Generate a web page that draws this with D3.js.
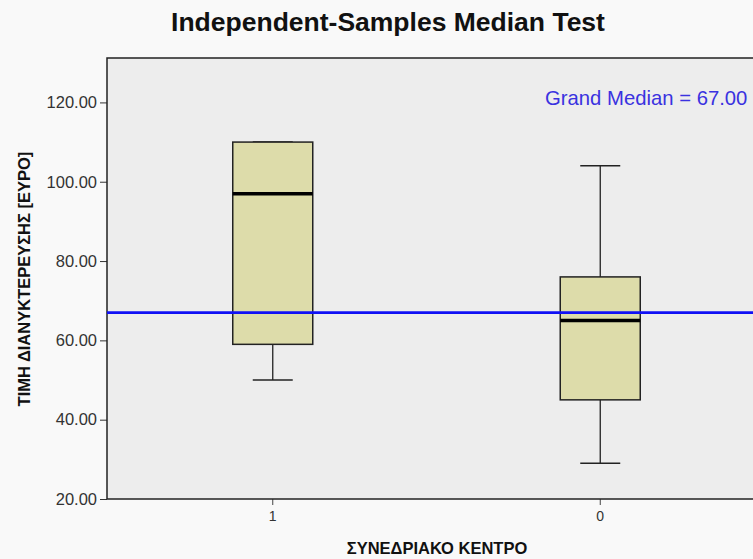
<!DOCTYPE html>
<html>
<head>
<meta charset="utf-8">
<script src="https://cdn.jsdelivr.net/npm/d3@7"></script>
<style>
  html, body { margin: 0; padding: 0; background: #f9f9f9; }
  svg { display: block; }
</style>
</head>
<body>
<svg id="chart" width="753" height="559"></svg>
<script>
// Groups on the x axis (ΣΥΝΕΔΡΙΑΚΟ ΚΕΝΤΡΟ)
const categories = ["1", "0"];
// Five-number summaries per group: lower whisker, Q1, median, Q3, upper whisker
const whiskerLow = [50, 29];
const q1 = [59, 45];
const medians = [97, 65];
const q3 = [110, 76];
const whiskerHigh = [110, 104];
const grandMedian = 67.00;
const yTicks = [20, 40, 60, 80, 100, 120];

const svg = d3.select("#chart");
const margin = { left: 107, top: 58, right: -11, bottom: 60 };
const W = 753, H = 559;
const x0 = margin.left, x1 = W - margin.right;
const yTop = margin.top, yBot = H - margin.bottom;
const font = "Liberation Sans, Arial, sans-serif";

const x = d3.scaleBand().domain(categories).range([x0 + 2, x1]).paddingInner(0).paddingOuter(0);
const y = d3.scaleLinear().domain([20, 131.2]).range([yBot, yTop]);

// plot background
svg.append("rect").attr("x", x0).attr("y", yTop).attr("width", x1 - x0).attr("height", yBot - yTop)
  .attr("fill", "#ededed");

// title
svg.append("text").attr("x", 388).attr("y", 31).attr("text-anchor", "middle")
  .attr("font-family", font).attr("font-weight", "bold")
  .attr("font-size", 26.5).attr("fill", "#111").text("Independent-Samples Median Test");

// y axis
const yAxis = d3.axisLeft(y).tickValues(yTicks).tickFormat(d3.format(".2f")).tickSize(7).tickPadding(3);
const gy = svg.append("g").attr("transform", `translate(${x0},0)`).call(yAxis);
gy.select(".domain").remove();
gy.selectAll("line").attr("stroke", "#333");
gy.selectAll("text").attr("font-family", font).attr("font-size", 16.5).attr("fill", "#333");

// x axis
const xAxis = d3.axisBottom(x).tickSize(6).tickPadding(6);
const gx = svg.append("g").attr("transform", `translate(0,${yBot})`).call(xAxis);
gx.select(".domain").remove();
gx.selectAll("line").attr("stroke", "#444");
gx.selectAll("text").attr("font-family", font).attr("font-size", 14).attr("fill", "#333");

// plot frame
svg.append("rect").attr("x", x0).attr("y", yTop).attr("width", x1 - x0).attr("height", yBot - yTop)
  .attr("fill", "none").attr("stroke", "#222").attr("stroke-width", 1.5);

// axis titles
svg.append("text").attr("transform", `translate(30,${279}) rotate(-90)`)
  .attr("text-anchor", "middle").attr("font-family", font)
  .attr("font-weight", "bold").attr("font-size", 16.5).attr("fill", "#111")
  .text("ΤΙΜΗ ΔΙΑΝΥΚΤΕΡΕΥΣΗΣ [ΕΥΡΟ]");
svg.append("text").attr("x", 437).attr("y", 554).attr("text-anchor", "middle")
  .attr("font-family", font).attr("font-weight", "bold")
  .attr("font-size", 16.5).attr("fill", "#111").text("ΣΥΝΕΔΡΙΑΚΟ ΚΕΝΤΡΟ");

// box plots
const boxW = 80, capW = 40;
categories.forEach((c, i) => {
  const cx = x(c) + x.bandwidth() / 2;
  const g = svg.append("g");
  // whisker stems
  g.append("line").attr("x1", cx).attr("x2", cx).attr("y1", y(whiskerHigh[i])).attr("y2", y(q3[i]))
    .attr("stroke", "#222").attr("stroke-width", 1.3);
  g.append("line").attr("x1", cx).attr("x2", cx).attr("y1", y(q1[i])).attr("y2", y(whiskerLow[i]))
    .attr("stroke", "#222").attr("stroke-width", 1.3);
  // caps
  [whiskerHigh[i], whiskerLow[i]].forEach(v => {
    g.append("line").attr("x1", cx - capW / 2).attr("x2", cx + capW / 2).attr("y1", y(v)).attr("y2", y(v))
      .attr("stroke", "#222").attr("stroke-width", 1.5);
  });
  // box
  g.append("rect").attr("x", cx - boxW / 2).attr("y", y(q3[i])).attr("width", boxW)
    .attr("height", y(q1[i]) - y(q3[i])).attr("fill", "#dddcaa").attr("stroke", "#222").attr("stroke-width", 1.5);
  // median
  g.append("line").attr("x1", cx - boxW / 2).attr("x2", cx + boxW / 2).attr("y1", y(medians[i])).attr("y2", y(medians[i]))
    .attr("stroke", "#000").attr("stroke-width", 3.5);
});

// grand median reference line
svg.append("line").attr("x1", x0).attr("x2", x1).attr("y1", y(grandMedian)).attr("y2", y(grandMedian))
  .attr("stroke", "#1010f5").attr("stroke-width", 2.8);
svg.append("text").attr("x", 545).attr("y", 105)
  .attr("font-family", font)
  .attr("font-size", 20.3).attr("fill", "#3a32e0")
  .text("Grand Median = " + grandMedian.toFixed(2));
</script>
</body>
</html>
